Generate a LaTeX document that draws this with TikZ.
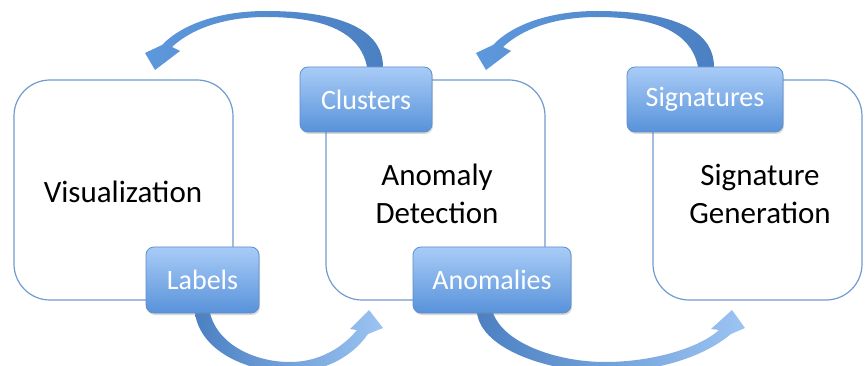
\documentclass[tikz,border=0pt]{standalone}
\usepackage{fontspec}
\setmainfont{Carlito}
\usetikzlibrary{shadows}
\definecolor{edge}{HTML}{6F9BD1}
\definecolor{boxtop}{HTML}{A9CCF7}
\definecolor{boxbot}{HTML}{5892DA}
\definecolor{boxline}{HTML}{5E8FCB}
\definecolor{arrdark}{HTML}{4B80C2}
\definecolor{arrmid}{HTML}{5E98DC}
\definecolor{arrlight}{HTML}{9CC4F3}
\tikzset{
  big/.style={draw=edge, line width=1.2pt, fill=white, rounded corners=36pt},
  small/.style={draw=boxline, line width=0.8pt, rounded corners=8pt, top color=boxtop, bottom color=boxbot,
    text=white, font=\fontsize{28}{32}\selectfont, inner sep=0pt,
    drop shadow={opacity=0.3, shadow xshift=1pt, shadow yshift=-2pt}},
  bigtext/.style={font=\fontsize{31}{38}\selectfont, align=center, text=black},
  arrL/.style={left color=arrmid, right color=arrdark, draw=none},
  arrR/.style={left color=arrdark, right color=arrlight, draw=none}
}
\begin{document}
\begin{tikzpicture}[x=1pt,y=-1pt]
\useasboundingbox (0,0) rectangle (865,366);
% big boxes
\node[big, minimum width=219pt, minimum height=220pt] (vis) at (123.5,190) {};
\node[big, minimum width=219pt, minimum height=220pt] (det) at (435.5,190) {};
\node[big, minimum width=209pt, minimum height=220pt] (gen) at (757.5,190) {};
\node[bigtext] (vist) at (123,192) {Visualization};
\node[bigtext] (dett) at (437,194) {Anomaly\\Detection};
\node[bigtext] (gent) at (760,194) {Signature\\Generation};
% arrows (top)
\path[arrL] (367,67) .. controls (360,30) and (320,17) .. (266,17)
  .. controls (222,17) and (190,30) .. (172,47) -- (180,51) -- (155,70) -- (145,53) -- (162,45)
  .. controls (182,24) and (220,11) .. (266,11) .. controls (330,11) and (383,25) .. (383,67) -- cycle;
\begin{scope}[xshift=331pt]
\path[arrL] (367,67) .. controls (360,30) and (320,17) .. (266,17)
  .. controls (222,17) and (190,30) .. (172,47) -- (180,51) -- (155,70) -- (145,53) -- (162,45)
  .. controls (182,24) and (220,11) .. (266,11) .. controls (330,11) and (383,25) .. (383,67) -- cycle;
\end{scope}
% arrows (bottom)
\path[arrR] (210,313) .. controls (218,345) and (255,362) .. (290,362)
  .. controls (320,362) and (343,347) .. (357,330) -- (350,329) -- (369,310) -- (383,328) -- (368,334)
  .. controls (350,360) and (320,372) .. (290,372) .. controls (245,372) and (200,350) .. (195,313) -- cycle;
\path[arrR] (493,313) .. controls (505,345) and (560,362) .. (605,362)
  .. controls (650,362) and (698,349) .. (719,330) -- (711,329) -- (732,310) -- (745,328) -- (731,334)
  .. controls (700,360) and (650,372) .. (605,372) .. controls (550,372) and (482,350) .. (477,313) -- cycle;
% small boxes
\node[small, minimum width=132pt, minimum height=65pt] (clu) at (366,99.5) {Clusters};
\node[small, minimum width=156pt, minimum height=65pt] (sig) at (705,99.5) {Signatures};
\node[small, minimum width=113pt, minimum height=66pt] (lab) at (202.5,280) {Labels};
\node[small, minimum width=158pt, minimum height=66pt] (ano) at (492,280) {Anomalies};
\end{tikzpicture}
\end{document}
